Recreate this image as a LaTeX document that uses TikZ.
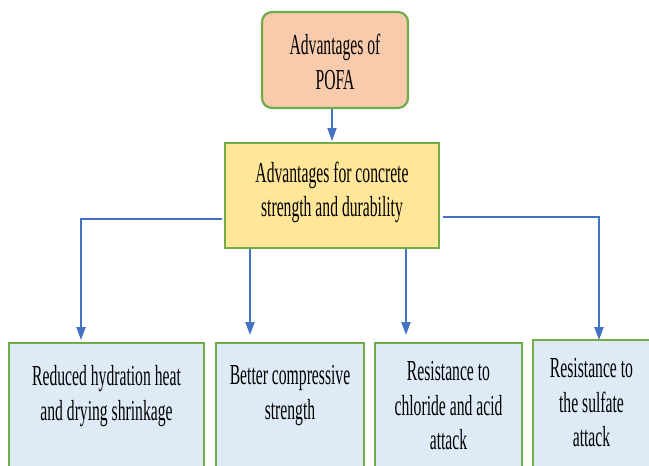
\documentclass[tikz,border=0pt]{standalone}
\usepackage{fontspec}
\setmainfont{Liberation Serif}[FakeStretch=0.54]
\usetikzlibrary{arrows.meta}
\definecolor{salmon}{HTML}{F8CBAD}
\definecolor{yel}{HTML}{FFE699}
\definecolor{lblue}{HTML}{DEEBF7}
\definecolor{grn}{HTML}{70AD47}
\definecolor{arrblue}{HTML}{4472C4}
\begin{document}
\begin{tikzpicture}[x=1pt,y=-1pt,
 box/.style={draw=grn, line width=2.2pt, inner sep=0pt},
 txt/.style={align=center, inner sep=0pt, anchor=north, font=\fontsize{29}{34.5}\selectfont},
 conn/.style={draw=arrblue, line width=2pt, -{Triangle[width=9pt,length=13pt]}}]
\useasboundingbox (0,0) rectangle (649,466);
\clip (0,0) rectangle (649,466);
\node[box, fill=salmon, rounded corners=10pt, minimum width=146pt, minimum height=96pt] (top) at (335,60) {};
\node[box, fill=yel, minimum width=214pt, minimum height=105pt] (mid) at (332,195.5) {};
\node[box, fill=lblue, minimum width=195pt, minimum height=147pt] (b1) at (106.5,416.5) {};
\node[box, fill=lblue, minimum width=148pt, minimum height=147pt] (b2) at (290,416.5) {};
\node[box, fill=lblue, minimum width=147pt, minimum height=147pt] (b3) at (448.5,416.5) {};
\node[box, fill=lblue, minimum width=119pt, minimum height=150pt] (b4) at (592.5,415) {};
\node[txt] (ttop) at (335,34) {Advantages of\\POFA};
\node[txt] (tmid) at (332,161.5) {Advantages for concrete\\strength and durability};
\node[txt] (t1) at (106.5,365.5) {Reduced hydration heat\\and drying shrinkage};
\node[txt] (t2) at (290,365.5) {Better compressive\\strength};
\node[txt] (t3) at (448.5,361.5) {Resistance to\\chloride and acid\\attack};
\node[txt] (t4) at (591.5,358.5) {Resistance to\\the sulfate\\attack};
\coordinate (l1) at (222,219);
\coordinate (e1) at (81,340);
\coordinate (m2) at (250,335);
\coordinate (m3) at (406,335);
\coordinate (r1) at (443,217);
\coordinate (e4) at (599,340);
\coordinate (m1) at (332,141);
\draw[conn] (top.south -| m1) -- (m1);
\draw[conn] (l1) -| (e1);
\draw[conn] (mid.south -| m2) -- (m2);
\draw[conn] (mid.south -| m3) -- (m3);
\draw[conn] (r1) -| (e4);
\end{tikzpicture}
\end{document}
